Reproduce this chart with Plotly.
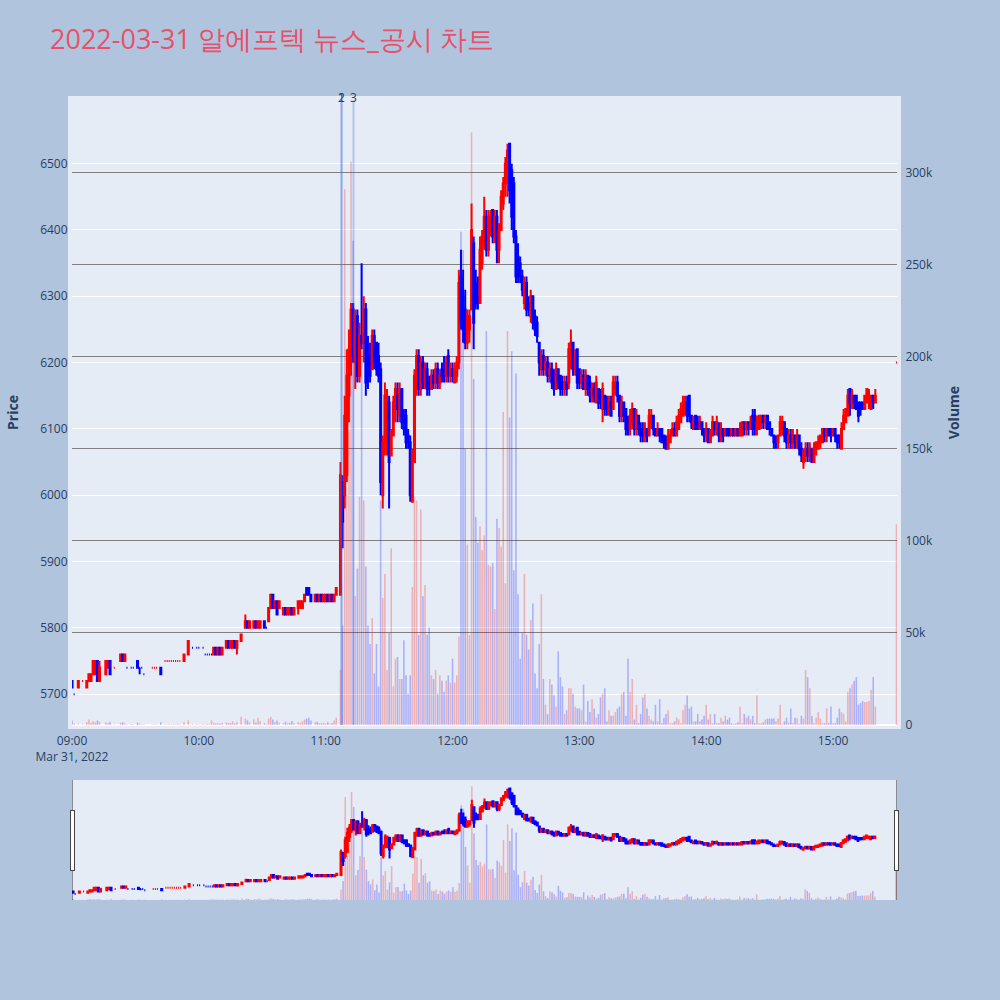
import pandas as pd
import plotly.graph_objects as go
from plotly.subplots import make_subplots

day = pd.Timestamp("2022-03-31 09:00")

# --- 09:00 ~ 11:06 (거래 없는 분은 빠짐), 분 단위 오프셋
pre_min = [0, 1, 3, 5, 7, 8, 9, 10, 11, 12,
           13, 16, 17, 18, 20, 23, 24, 25, 26, 28,
           29, 31, 32, 33, 34, 38, 39, 40, 42, 44,
           45, 46, 47, 48, 49, 50, 51, 53, 55, 57,
           59, 60, 62, 63, 64, 65, 66, 67, 68, 69,
           70, 71, 73, 74, 75, 76, 77, 78, 80, 82,
           83, 84, 86, 87, 88, 89, 91, 92, 93, 94,
           95, 96, 97, 98, 100, 101, 102, 103, 104, 105,
           107, 108, 109, 110, 111, 112, 113, 115, 116, 117,
           118, 119, 120, 121, 122, 123, 124, 125]
pre_open = [5720, 5700, 5710, 5720, 5710, 5720, 5720, 5730, 5730, 5750,
            5720, 5730, 5740, 5750, 5740, 5750, 5760, 5750, 5740, 5740,
            5740, 5750, 5740, 5740, 5730, 5740, 5740, 5740, 5740, 5750,
            5750, 5750, 5750, 5750, 5750, 5750, 5750, 5750, 5760, 5770,
            5770, 5770, 5770, 5760, 5760, 5760, 5760, 5760, 5770, 5760,
            5770, 5760, 5770, 5780, 5770, 5770, 5780, 5770, 5780, 5800,
            5810, 5800, 5800, 5810, 5800, 5800, 5810, 5800, 5810, 5830,
            5850, 5830, 5840, 5830, 5820, 5830, 5820, 5820, 5830, 5820,
            5830, 5830, 5830, 5840, 5860, 5860, 5850, 5840, 5850, 5840,
            5850, 5840, 5840, 5850, 5840, 5850, 5840, 5850]
pre_high = [5720, 5700, 5720, 5720, 5720, 5730, 5730, 5750, 5750, 5750,
            5750, 5750, 5750, 5750, 5740, 5760, 5760, 5760, 5740, 5740,
            5740, 5750, 5740, 5740, 5730, 5740, 5740, 5740, 5740, 5750,
            5750, 5750, 5750, 5750, 5750, 5750, 5750, 5760, 5780, 5770,
            5770, 5770, 5770, 5760, 5760, 5760, 5760, 5770, 5770, 5770,
            5770, 5770, 5780, 5780, 5780, 5780, 5780, 5780, 5790, 5820,
            5810, 5810, 5810, 5810, 5810, 5810, 5810, 5800, 5830, 5850,
            5850, 5840, 5840, 5840, 5830, 5830, 5830, 5830, 5830, 5830,
            5840, 5840, 5840, 5850, 5860, 5860, 5850, 5850, 5850, 5850,
            5850, 5850, 5850, 5850, 5850, 5850, 5850, 5860]
pre_low = [5710, 5700, 5710, 5720, 5710, 5720, 5720, 5730, 5730, 5720,
           5720, 5730, 5740, 5730, 5740, 5750, 5750, 5750, 5740, 5740,
           5740, 5740, 5730, 5740, 5730, 5740, 5740, 5740, 5730, 5750,
           5750, 5750, 5750, 5750, 5750, 5750, 5750, 5750, 5760, 5770,
           5770, 5770, 5770, 5760, 5760, 5760, 5760, 5760, 5760, 5760,
           5760, 5760, 5770, 5770, 5770, 5770, 5770, 5760, 5780, 5800,
           5800, 5800, 5800, 5800, 5800, 5800, 5800, 5800, 5810, 5830,
           5830, 5830, 5820, 5830, 5820, 5820, 5820, 5820, 5820, 5820,
           5820, 5830, 5830, 5840, 5850, 5850, 5840, 5840, 5840, 5840,
           5840, 5840, 5840, 5840, 5840, 5840, 5840, 5850]
pre_close = [5710, 5700, 5720, 5720, 5720, 5730, 5730, 5750, 5750, 5720,
             5740, 5750, 5750, 5730, 5740, 5760, 5750, 5760, 5740, 5740,
             5740, 5740, 5740, 5740, 5730, 5740, 5740, 5740, 5730, 5750,
             5750, 5750, 5750, 5750, 5750, 5750, 5750, 5760, 5780, 5770,
             5770, 5770, 5770, 5760, 5760, 5760, 5760, 5770, 5760, 5770,
             5760, 5770, 5780, 5770, 5780, 5780, 5770, 5780, 5790, 5810,
             5800, 5810, 5810, 5800, 5810, 5810, 5800, 5800, 5830, 5850,
             5830, 5840, 5820, 5840, 5830, 5820, 5830, 5830, 5820, 5830,
             5840, 5840, 5840, 5850, 5850, 5850, 5840, 5850, 5840, 5850,
             5840, 5850, 5850, 5840, 5850, 5840, 5850, 5860]
pre_vol = [2500, 800, 600, 400, 1500, 3000, 1200, 2000, 1500, 2500,
           1800, 1500, 1000, 1800, 400, 1200, 1500, 800, 300, 500,
           300, 1200, 800, 300, 400, 300, 300, 300, 1500, 400,
           300, 500, 200, 400, 300, 600, 300, 1500, 2500, 500,
           400, 300, 600, 300, 500, 400, 2500, 1200, 800, 1000,
           700, 1200, 1500, 900, 1100, 2000, 800, 1600, 4500, 3500,
           2500, 1500, 3000, 1200, 4000, 2000, 1000, 500, 3500, 4500,
           3000, 1500, 2500, 1200, 1000, 1800, 900, 1300, 2200, 1000,
           1500, 1200, 2000, 3000, 3500, 4000, 2500, 1500, 1800, 1000,
           900, 1200, 800, 1500, 700, 1000, 2500, 4000]

# --- 11:07 ~ 15:20 매 분
main_min = list(range(127, 381))
main_open = [5850, 6020, 6000, 6030, 6150, 6200, 6280, 6200, 6270, 6180,
             6240, 6230, 6280, 6210, 6200, 6190, 6240, 6230, 6210, 6190,
             6000, 6080, 6070, 6140, 6060, 6090, 6130, 6150, 6120, 6160,
             6120, 6120, 6090, 6080, 5990, 6050, 6160, 6210, 6160, 6200,
             6170, 6190, 6170, 6160, 6180, 6170, 6190, 6170, 6190, 6190,
             6180, 6210, 6180, 6190, 6170, 6180, 6200, 6330, 6300, 6280,
             6230, 6250, 6280, 6380, 6320, 6300, 6290, 6350, 6380, 6420,
             6370, 6400, 6430, 6390, 6420, 6370, 6400, 6440, 6470, 6490,
             6530, 6490, 6470, 6390, 6360, 6350, 6330, 6290, 6320, 6290,
             6270, 6300, 6270, 6260, 6230, 6190, 6210, 6190, 6200, 6180,
             6190, 6180, 6160, 6190, 6180, 6170, 6160, 6170, 6170, 6210,
             6230, 6190, 6220, 6190, 6170, 6180, 6160, 6180, 6170, 6150,
             6160, 6140, 6160, 6150, 6130, 6150, 6140, 6130, 6140, 6130,
             6160, 6170, 6150, 6120, 6140, 6130, 6110, 6100, 6110, 6130,
             6100, 6120, 6100, 6100, 6090, 6100, 6090, 6110, 6120, 6100,
             6090, 6100, 6100, 6090, 6080, 6070, 6080, 6090, 6100, 6090,
             6100, 6110, 6120, 6130, 6140, 6150, 6120, 6100, 6120, 6110,
             6100, 6110, 6100, 6090, 6100, 6080, 6090, 6110, 6100, 6100,
             6090, 6100, 6090, 6100, 6100, 6090, 6100, 6090, 6100, 6090,
             6090, 6110, 6100, 6110, 6100, 6120, 6120, 6100, 6100, 6110,
             6120, 6110, 6120, 6110, 6100, 6090, 6080, 6080, 6090, 6100,
             6110, 6100, 6080, 6090, 6080, 6090, 6080, 6090, 6070, 6050,
             6060, 6070, 6060, 6070, 6050, 6070, 6070, 6080, 6080, 6100,
             6090, 6100, 6100, 6090, 6100, 6090, 6090, 6070, 6100, 6110,
             6120, 6160, 6140, 6150, 6150, 6140, 6140, 6140, 6130, 6140,
             6140, 6130, 6150, 6140]
main_high = [6050, 6030, 6150, 6220, 6250, 6290, 6290, 6280, 6280, 6260,
             6350, 6300, 6290, 6240, 6230, 6250, 6250, 6230, 6230, 6200,
             6090, 6170, 6160, 6150, 6100, 6150, 6170, 6170, 6170, 6160,
             6130, 6130, 6100, 6090, 6070, 6190, 6220, 6220, 6210, 6210,
             6200, 6200, 6180, 6190, 6190, 6200, 6200, 6190, 6200, 6210,
             6210, 6220, 6200, 6200, 6200, 6210, 6340, 6370, 6340, 6310,
             6280, 6280, 6440, 6390, 6340, 6330, 6390, 6400, 6450, 6430,
             6430, 6430, 6430, 6430, 6430, 6410, 6460, 6480, 6510, 6530,
             6530, 6500, 6480, 6400, 6380, 6360, 6340, 6330, 6330, 6300,
             6310, 6300, 6280, 6270, 6230, 6220, 6220, 6210, 6210, 6200,
             6200, 6190, 6200, 6190, 6180, 6180, 6180, 6180, 6230, 6250,
             6230, 6220, 6220, 6190, 6190, 6190, 6190, 6180, 6180, 6170,
             6170, 6180, 6160, 6160, 6170, 6150, 6150, 6150, 6150, 6180,
             6180, 6180, 6150, 6150, 6140, 6130, 6120, 6130, 6140, 6130,
             6130, 6120, 6110, 6110, 6110, 6100, 6130, 6130, 6120, 6100,
             6110, 6100, 6100, 6090, 6090, 6100, 6100, 6110, 6110, 6120,
             6130, 6140, 6150, 6150, 6150, 6150, 6120, 6120, 6120, 6120,
             6120, 6110, 6100, 6110, 6100, 6100, 6120, 6110, 6120, 6110,
             6110, 6100, 6100, 6100, 6100, 6100, 6100, 6100, 6100, 6110,
             6110, 6110, 6110, 6110, 6120, 6130, 6130, 6120, 6120, 6120,
             6120, 6120, 6120, 6110, 6100, 6090, 6090, 6090, 6120, 6120,
             6110, 6100, 6100, 6100, 6100, 6090, 6100, 6090, 6080, 6070,
             6080, 6080, 6080, 6070, 6080, 6080, 6090, 6090, 6100, 6100,
             6100, 6100, 6100, 6100, 6100, 6090, 6090, 6110, 6130, 6130,
             6160, 6160, 6160, 6150, 6150, 6140, 6140, 6140, 6150, 6160,
             6160, 6150, 6150, 6160]
main_low = [5850, 5920, 5980, 6020, 6110, 6180, 6200, 6160, 6170, 6170,
            6220, 6200, 6150, 6160, 6170, 6190, 6190, 6180, 6170, 6000,
            5980, 6060, 6060, 5980, 6060, 6090, 6110, 6110, 6110, 6100,
            6090, 6070, 6070, 5990, 5990, 6050, 6150, 6150, 6150, 6160,
            6160, 6150, 6150, 6160, 6160, 6160, 6160, 6160, 6170, 6170,
            6170, 6170, 6170, 6170, 6170, 6170, 6190, 6250, 6230, 6220,
            6220, 6230, 6280, 6220, 6280, 6280, 6290, 6340, 6370, 6360,
            6360, 6390, 6380, 6380, 6350, 6350, 6400, 6430, 6450, 6450,
            6440, 6400, 6380, 6320, 6320, 6320, 6300, 6280, 6270, 6270,
            6260, 6250, 6240, 6230, 6180, 6180, 6180, 6180, 6170, 6170,
            6160, 6150, 6160, 6160, 6150, 6150, 6150, 6150, 6160, 6190,
            6180, 6180, 6160, 6160, 6160, 6160, 6150, 6150, 6140, 6140,
            6140, 6140, 6130, 6130, 6110, 6120, 6120, 6120, 6120, 6130,
            6150, 6140, 6110, 6110, 6110, 6090, 6090, 6090, 6100, 6090,
            6090, 6090, 6080, 6080, 6080, 6080, 6090, 6100, 6090, 6090,
            6090, 6080, 6080, 6070, 6070, 6070, 6080, 6090, 6090, 6090,
            6100, 6110, 6120, 6120, 6110, 6110, 6100, 6100, 6100, 6100,
            6100, 6090, 6080, 6080, 6080, 6080, 6090, 6090, 6090, 6080,
            6080, 6080, 6090, 6090, 6090, 6090, 6090, 6090, 6090, 6090,
            6090, 6090, 6090, 6090, 6100, 6090, 6090, 6090, 6100, 6100,
            6100, 6100, 6100, 6090, 6090, 6070, 6070, 6070, 6090, 6090,
            6080, 6070, 6070, 6070, 6070, 6070, 6070, 6060, 6050, 6040,
            6050, 6050, 6050, 6050, 6050, 6060, 6070, 6070, 6080, 6080,
            6080, 6090, 6080, 6090, 6080, 6070, 6070, 6070, 6100, 6110,
            6120, 6120, 6130, 6130, 6130, 6110, 6120, 6130, 6130, 6140,
            6130, 6130, 6130, 6140]
main_close = [6030, 5960, 6120, 6180, 6220, 6280, 6210, 6270, 6180, 6240,
              6230, 6280, 6170, 6180, 6180, 6240, 6200, 6190, 6180, 6020,
              6080, 6150, 6140, 6050, 6090, 6140, 6160, 6130, 6160, 6110,
              6100, 6080, 6080, 6000, 6060, 6180, 6210, 6160, 6200, 6170,
              6190, 6160, 6160, 6180, 6170, 6190, 6170, 6180, 6180, 6180,
              6200, 6180, 6190, 6180, 6190, 6200, 6320, 6260, 6250, 6230,
              6270, 6270, 6400, 6260, 6290, 6290, 6370, 6390, 6420, 6370,
              6420, 6420, 6390, 6420, 6370, 6400, 6450, 6470, 6500, 6520,
              6460, 6420, 6390, 6330, 6330, 6330, 6310, 6320, 6280, 6280,
              6300, 6260, 6250, 6240, 6200, 6210, 6190, 6200, 6180, 6190,
              6170, 6160, 6190, 6170, 6160, 6160, 6170, 6160, 6220, 6230,
              6190, 6210, 6170, 6170, 6180, 6160, 6180, 6160, 6150, 6160,
              6150, 6170, 6140, 6140, 6160, 6130, 6130, 6140, 6120, 6170,
              6170, 6150, 6120, 6140, 6120, 6100, 6100, 6120, 6130, 6100,
              6120, 6100, 6090, 6090, 6100, 6090, 6120, 6120, 6100, 6090,
              6100, 6090, 6080, 6080, 6070, 6090, 6090, 6100, 6090, 6110,
              6120, 6130, 6140, 6140, 6120, 6120, 6110, 6110, 6100, 6100,
              6110, 6100, 6090, 6100, 6080, 6090, 6110, 6100, 6110, 6090,
              6100, 6090, 6100, 6090, 6090, 6100, 6090, 6100, 6090, 6100,
              6110, 6100, 6110, 6100, 6110, 6100, 6100, 6110, 6120, 6120,
              6110, 6120, 6100, 6100, 6090, 6080, 6080, 6090, 6110, 6110,
              6090, 6080, 6090, 6080, 6090, 6080, 6090, 6070, 6060, 6060,
              6070, 6060, 6070, 6050, 6070, 6080, 6080, 6090, 6100, 6090,
              6100, 6090, 6090, 6100, 6090, 6080, 6080, 6100, 6120, 6130,
              6150, 6140, 6150, 6140, 6130, 6120, 6130, 6130, 6150, 6160,
              6150, 6150, 6140, 6150]
main_vol_k = [30, 54, 291, 125, 160, 306, 263, 70, 85, 124,
              250, 122, 86, 54, 44, 58, 28, 44, 21, 122,
              69, 82, 30, 50, 96, 21, 36, 37, 25, 25,
              46, 27, 17, 27, 75, 124, 122, 49, 117, 70,
              76, 49, 53, 27, 25, 30, 17, 27, 24, 18,
              24, 27, 23, 36, 23, 27, 48, 268, 258, 150,
              98, 49, 322, 188, 113, 99, 108, 95, 103, 214,
              87, 86, 88, 63, 112, 107, 97, 170, 77, 214,
              167, 203, 84, 191, 71, 36, 50, 82, 49, 41,
              57, 66, 28, 20, 44, 71, 25, 11, 6, 25,
              22, 16, 10, 40,
              26, 21, 6, 8, 20, 20, 17, 10, 9, 9,
              8, 22, 2, 13, 7, 14, 9, 4, 6, 15,
              17, 20, 2, 8, 5, 5, 7, 9, 10, 17,
              18, 5, 36, 18, 25, 3, 11, 1, 6, 15,
              17, 9, 5, 3, 2, 11, 2, 14, 1, 4,
              6, 8, 1, 1, 2, 4, 3, 1, 8, 11,
              16, 9, 10, 2, 2, 6, 2, 3, 5, 11,
              3, 6, 1, 6, 1, 1, 4, 2, 5, 3,
              4, 1, 0.5, 1, 1.5, 10, 1, 6, 4, 5,
              3, 5, 1, 16, 1, 1, 1.5, 3, 3.5, 3.5,
              3.5, 3.5, 2, 3.5, 11, 0.5, 2, 4, 1.5, 9,
              1, 4, 3.5, 0.5, 5, 3.5, 30, 26, 20, 5,
              1, 4, 7, 3.5, 1, 1, 9, 1, 10, 1,
              1, 4, 9, 7, 6, 2, 18, 20, 22, 24,
              26, 11, 12, 13, 12.5, 12.5, 13, 19, 26, 10]

# --- 15:30 종가
last_min = [390]
last_price = [6200]
last_vol = [109000]

# 뉴스/공시 시각
news_times = ["2022-03-31 11:07:30", "2022-03-31 11:07:30", "2022-03-31 11:13:10"]
news_labels = ["1", "2", "3"]

minutes = pre_min + main_min + last_min
opens = pre_open + main_open + last_price
highs = pre_high + main_high + last_price
lows = pre_low + main_low + last_price
closes = pre_close + main_close + last_price
volumes = pre_vol + [v * 1000 for v in main_vol_k] + last_vol

times = [day + pd.Timedelta(minutes=m) for m in minutes]
vol_colors = ['rgba(255,0,0,0.25)' if c >= o else 'rgba(0,0,255,0.25)' for o, c in zip(opens, closes)]

fig = make_subplots(specs=[[{"secondary_y": True}]])

fig.add_trace(go.Bar(x=times, y=volumes, marker_color=vol_colors, marker_line_width=0,
                     width=45000, name="거래량"), secondary_y=False)
fig.add_trace(go.Candlestick(x=times, open=opens, high=highs, low=lows, close=closes, name="주가",
                             increasing_line_color='red', increasing_fillcolor='red',
                             decreasing_line_color='blue', decreasing_fillcolor='blue'), secondary_y=True)

# 플롯 배경을 살짝 크게
fig.add_shape(type="rect", xref="paper", yref="paper", x0=-4/825, x1=1+4/825, y0=-4/628, y1=1+4/628,
              fillcolor="#E5ECF6", line_width=0, layer="below")

for t, lab in zip(news_times, news_labels):
    fig.add_shape(type="line", xref="x", yref="paper", x0=t, x1=t, y0=0, y1=1,
                  line=dict(color="royalblue", width=2), opacity=0.3)
    fig.add_annotation(x=t, xref="x", y=1, yref="paper", text=lab, showarrow=False,
                       yanchor="middle", yshift=3, font=dict(size=12, color="#2a3f5f"))

fig.update_layout(
    title=dict(text="2022-03-31 알에프텍 뉴스_공시 차트", x=0.05, xanchor="left", y=0.96, yanchor="middle",
               font=dict(size=27, color="#e9506a")),
    width=1000, height=1000,
    margin=dict(l=72, r=103, t=100, b=100),
    paper_bgcolor="lightsteelblue",
    plot_bgcolor="#E5ECF6",
    showlegend=False,
    template="plotly",
)
fig.update_xaxes(domain=[0, 1], range=["2022-03-31 09:00:00", "2022-03-31 15:30:15"], showgrid=False,
                 ticks="outside", ticklen=5, tickcolor="rgba(0,0,0,0)",
                 rangeslider=dict(visible=True, bgcolor="#E5ECF6"))
fig.update_yaxes(title_text="<b>Volume</b>", title_standoff=17, side="right", range=[0, 339500], dtick=50000,
                 gridcolor="gray", ticks="outside", ticklen=5, tickcolor="rgba(0,0,0,0)",
                 secondary_y=False)
fig.update_yaxes(title_text="<b>Price</b>", title_standoff=18, side="left", range=[5653.5, 6596], dtick=100,
                 gridcolor="white", showgrid=True, ticks="outside", ticklen=1, tickcolor="rgba(0,0,0,0)",
                 secondary_y=True)

fig.write_html("out.html", config={"displayModeBar": False},
               post_script="document.body.style.margin='0';")
